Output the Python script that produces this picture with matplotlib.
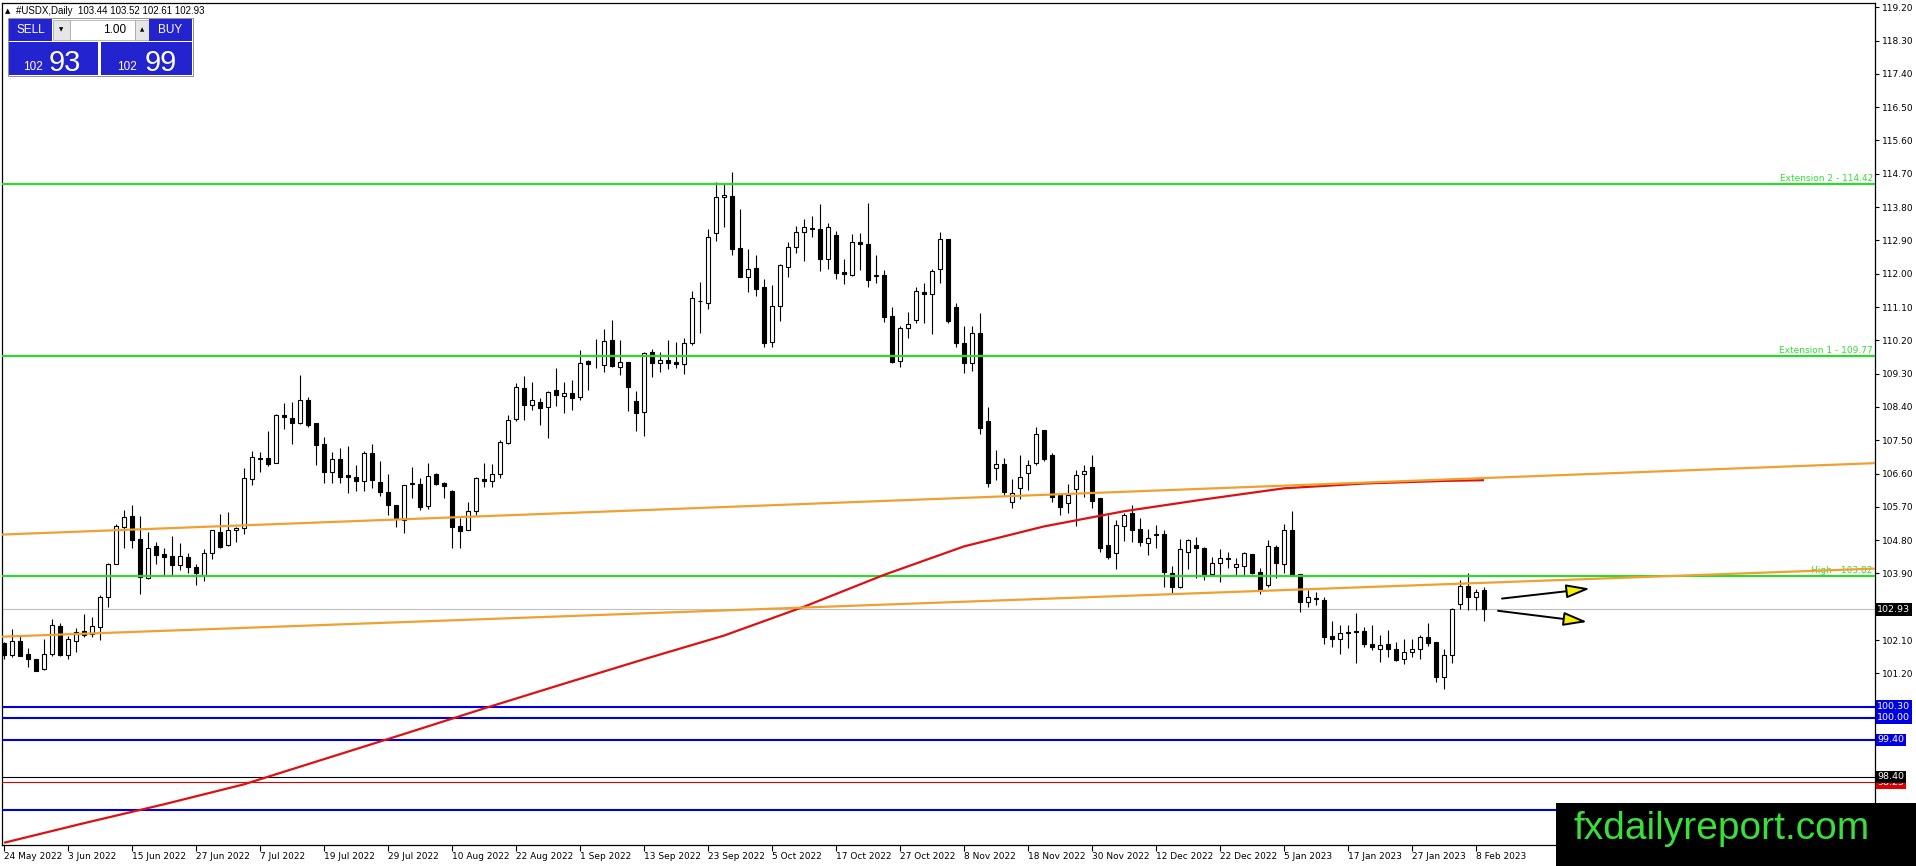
import matplotlib
matplotlib.use('Agg')
import matplotlib.pyplot as plt
import numpy as np
from matplotlib.patches import Rectangle, FancyArrowPatch
import matplotlib.transforms as mtrans

# ---------------- data ----------------
opens = [102.01,101.70,102.07,101.72,101.60,101.31,101.72,102.49,101.70,102.08,
102.35,102.26,102.46,103.25,104.15,105.15,105.45,104.82,103.77,104.64,
104.43,104.37,104.13,104.34,104.07,103.86,104.44,105.03,104.67,105.06,
105.12,106.44,107.00,107.01,106.89,108.18,108.09,107.96,108.60,107.96,
107.40,106.65,106.98,106.56,106.50,106.41,107.15,106.38,106.11,105.75,
105.34,106.34,106.32,105.72,106.59,106.33,106.14,105.18,105.07,105.60,
106.44,106.41,106.60,107.43,108.06,108.90,108.45,108.52,108.39,108.86,
108.69,108.77,108.68,109.64,109.78,109.53,110.21,109.49,109.61,108.57,
108.27,109.89,109.58,109.67,109.61,109.56,110.14,111.27,111.22,113.11,
114.06,114.10,112.69,111.90,112.15,111.63,110.16,111.14,112.17,112.71,
113.12,113.22,113.20,112.39,113.05,112.05,111.96,112.85,112.80,111.95,
111.96,110.86,109.65,110.52,110.75,111.50,111.44,112.12,112.94,111.11,
110.14,109.58,110.39,108.03,106.74,106.87,105.84,106.22,106.62,106.89,
107.78,107.10,106.02,105.79,106.17,106.60,106.77,105.93,104.67,104.46,
105.18,105.52,105.09,104.73,104.94,104.97,103.92,103.54,104.49,104.67,
104.60,103.88,104.17,104.33,104.07,104.10,104.42,103.95,103.59,104.62,
104.15,105.07,103.88,103.14,103.20,103.18,102.21,102.12,102.28,102.33,
102.34,102.00,101.87,101.98,101.87,101.58,101.77,101.87,102.17,102.05,
101.09,101.69,103.07,103.57,103.27,103.44]

highs = [102.05,102.39,102.21,101.88,101.60,102.12,102.66,102.55,102.21,102.42,
102.80,102.71,103.32,104.19,105.24,105.61,105.75,105.45,105.03,104.76,
104.58,104.91,104.73,104.46,104.15,104.55,105.07,105.50,105.57,105.16,
106.74,107.22,107.19,107.75,108.21,108.50,108.54,109.26,108.66,107.97,
107.58,107.19,107.28,107.33,106.83,107.22,107.40,106.95,106.60,105.75,
106.29,106.77,106.47,106.88,106.62,106.38,106.15,105.39,105.84,106.50,
106.88,106.86,107.51,108.18,109.04,109.24,109.08,108.63,108.84,109.44,
109.08,109.14,109.94,109.67,110.23,110.50,110.75,110.21,109.61,108.84,
109.89,109.96,109.89,110.21,110.16,110.25,111.54,111.78,113.20,114.49,
114.46,114.76,113.74,112.66,112.50,111.85,111.69,112.26,112.87,113.29,
113.47,113.56,113.88,113.38,113.16,112.41,113.07,113.11,113.90,112.50,
112.10,111.09,110.59,110.97,111.63,111.74,112.12,113.14,112.95,111.22,
110.59,110.59,110.95,108.39,107.24,107.01,106.44,107.10,106.96,107.87,
107.78,107.16,106.08,106.32,106.69,106.83,107.10,105.93,105.48,105.33,
105.52,105.75,105.39,105.09,105.21,105.06,104.10,104.82,104.82,104.88,
104.62,104.35,104.55,104.49,104.33,104.49,104.42,104.04,104.80,104.67,
105.23,105.60,103.88,103.45,103.41,103.25,102.61,102.50,102.50,102.84,
102.44,102.50,102.23,102.37,102.05,102.12,102.12,102.24,102.57,102.05,
101.85,102.96,103.72,103.90,103.47,103.52]

lows = [101.58,101.65,101.67,101.36,101.25,101.30,101.67,101.67,101.58,101.78,
102.17,102.17,102.10,102.98,104.15,104.58,104.60,103.34,103.74,104.15,
103.86,103.83,103.99,103.90,103.59,103.70,104.28,104.60,104.64,104.76,
104.97,106.29,106.65,106.79,106.88,107.79,107.40,107.94,107.85,106.83,
106.33,106.33,106.35,106.06,106.14,106.14,106.20,105.99,105.48,105.16,
104.98,105.93,105.61,105.63,106.29,105.93,104.58,104.60,105.06,105.48,
106.24,106.24,106.47,107.41,108.03,108.05,108.32,107.91,107.55,108.42,
108.23,108.32,108.60,108.86,109.44,109.33,109.49,109.26,108.30,107.76,
107.61,109.20,109.35,109.42,109.44,109.30,110.07,110.41,111.04,112.89,
113.27,112.50,111.92,111.51,111.40,110.01,110.03,110.73,111.90,112.57,
112.35,113.00,112.08,112.12,111.87,111.71,111.94,112.10,111.65,111.76,
110.70,109.58,109.49,110.25,110.68,110.68,110.37,111.76,110.68,110.01,
109.31,109.38,107.67,106.23,106.42,106.02,105.66,105.90,106.15,106.83,
106.94,105.84,105.48,105.54,105.18,105.96,105.66,104.49,104.28,104.01,
104.78,104.76,104.64,104.40,104.58,103.52,103.38,103.50,104.01,103.77,
103.72,103.83,103.68,104.04,103.83,103.83,103.88,103.34,103.54,103.77,
103.92,103.83,102.87,102.98,103.05,101.99,101.92,101.71,101.88,101.47,
101.92,101.83,101.51,101.65,101.54,101.45,101.63,101.60,101.94,100.97,
100.77,101.49,102.93,102.91,102.91,102.61]

closes = [101.70,102.06,101.68,101.58,101.27,101.72,102.50,101.70,102.12,102.33,
102.23,102.49,103.25,104.15,105.19,105.42,104.80,103.79,104.60,104.40,
104.35,104.13,104.37,104.07,103.90,104.44,105.07,104.62,105.07,105.12,
106.47,107.04,107.02,106.86,108.18,108.12,107.97,108.59,107.91,107.37,
106.65,106.98,106.51,106.50,106.41,107.16,106.42,106.11,105.75,105.36,
106.29,106.31,105.69,106.53,106.32,106.26,105.16,105.05,105.60,106.47,
106.41,106.59,107.46,108.05,108.93,108.45,108.59,108.36,108.79,108.72,
108.77,108.63,109.60,109.55,109.80,110.18,109.51,109.61,108.93,108.24,
109.87,109.60,109.67,109.60,109.55,110.14,111.33,111.25,112.98,114.06,
114.13,112.66,111.92,112.12,111.60,110.14,111.14,112.23,112.71,113.12,
113.25,113.23,112.41,113.25,112.03,111.98,112.87,112.79,111.83,111.96,
110.82,109.62,110.52,110.64,111.53,111.45,112.08,112.93,110.73,110.14,
109.58,110.39,107.82,106.35,106.86,106.11,106.08,106.51,106.83,107.66,
107.00,105.96,105.70,106.02,106.56,106.66,105.87,104.58,104.35,105.21,
105.48,105.07,104.76,104.87,104.95,103.95,103.54,104.55,104.80,104.60,
103.88,104.19,104.33,104.28,104.15,104.46,103.92,103.45,104.64,104.19,
105.07,103.83,103.14,103.25,103.21,102.19,102.12,102.30,102.33,102.32,
101.99,101.92,101.96,101.85,101.56,101.77,101.85,102.17,102.03,101.09,
101.69,102.94,103.57,103.27,103.41,102.93]

# moving average (red) read at sample bars
ma_bars = [0, 10, 20, 30, 40, 50, 60, 70, 80, 90, 100, 110, 120, 130, 140, 150, 160, 170, 180, 185]
ma_values = [96.62, 97.15, 97.66, 98.20, 98.88, 99.56, 100.25, 100.92, 101.58, 102.22,
             103.00, 103.86, 104.63, 105.17, 105.58, 105.90, 106.20, 106.33, 106.40, 106.42]

# date labels every 8 bars
date_labels = ["24 May 2022", "3 Jun 2022", "15 Jun 2022", "27 Jun 2022", "7 Jul 2022",
               "19 Jul 2022", "29 Jul 2022", "10 Aug 2022", "22 Aug 2022", "1 Sep 2022",
               "13 Sep 2022", "23 Sep 2022", "5 Oct 2022", "17 Oct 2022", "27 Oct 2022",
               "8 Nov 2022", "18 Nov 2022", "30 Nov 2022", "12 Dec 2022", "22 Dec 2022",
               "5 Jan 2023", "17 Jan 2023", "27 Jan 2023", "8 Feb 2023"]

# price axis ticks
price_ticks = [119.20, 118.30, 117.40, 116.50, 115.60, 114.70, 113.80, 112.90, 112.00,
               111.10, 110.20, 109.30, 108.40, 107.50, 106.60, 105.70, 104.80, 103.90,
               102.10, 101.20]

# horizontal levels
green_levels = [114.42, 109.77, 103.82]
green_names = ["Extension 2 - 114.42", "Extension 1 - 109.77", "High - 103.82"]
blue_levels = [100.30, 100.00, 99.40, 97.50]
blue_labels = ["100.30", "100.00", "99.40", ""]
black_level = 98.40
red_level = 98.25
last_price = 102.93

# trend lines (orange): (bar, price) endpoints
trend_upper = [(-0.25, 104.95), (233.875, 106.88)]
trend_lower = [(-0.25, 102.19), (233.875, 104.03)]

# arrows (start bar, start price, end bar, end price)
arrows = [(187.25, 103.22, 198.25, 103.49), (186.75, 102.89, 197.9, 102.59)]

# ---------------- figure ----------------
W, H = 1916, 866
fig = plt.figure(figsize=(W / 100, H / 100), dpi=100)
fig.patch.set_facecolor('white')

L, R, T, B = 2, 1875, 3, 845
ax = fig.add_axes([L / W, 1 - B / H, (R - L) / W, (B - T) / H])
ax.set_xlim(-0.25, 233.875)
ax.set_ylim(96.56, 119.316)
for s in ax.spines.values():
    s.set_color('black')
    s.set_linewidth(0.9)

o = np.array(opens); h = np.array(highs); l = np.array(lows); c = np.array(closes)
x = np.arange(len(o))
up = c >= o

ax.vlines(x, l, h, color='black', linewidth=0.8, zorder=2)
bot = np.minimum(o, c)
hgt = np.maximum(np.abs(c - o), 0.025)
ax.bar(x[up], hgt[up], bottom=bot[up], width=0.62, color='white', edgecolor='black',
       linewidth=0.8, zorder=3)
ax.bar(x[~up], hgt[~up], bottom=bot[~up], width=0.62, color='black', edgecolor='black',
       linewidth=0.8, zorder=3)

# current price line
ax.axhline(last_price, color='#c0c0c0', lw=0.8, zorder=1)

# horizontal objects
for lv, nm in zip(green_levels, green_names):
    ax.axhline(lv, color='#22e022', lw=1.5, zorder=4)
    ax.text(233.6, lv + 0.03, nm, color='#33dd33', fontsize=6.5, ha='right', va='bottom', zorder=4)
for lv in blue_levels:
    ax.axhline(lv, color='#0000dd', lw=1.5, zorder=4)
ax.axhline(black_level, color='black', lw=0.8, zorder=4)
ax.axhline(red_level, color='#dd0000', lw=0.8, zorder=4)

# red MA
ax.plot(ma_bars, ma_values, color='#dd1111', lw=1.6, zorder=4, solid_capstyle='butt')

# orange trendlines
for tl in (trend_upper, trend_lower):
    ax.plot([tl[0][0], tl[1][0]], [tl[0][1], tl[1][1]], color='#f0a030', lw=1.6, zorder=5)

# arrows
for (x0, y0, x1, y1) in arrows:
    ar = FancyArrowPatch((x0, y0), (x1, y1), arrowstyle='-|>,head_length=1.45,head_width=0.42',
                         mutation_scale=10, facecolor='#f4f000', edgecolor='black', lw=1.4,
                         shrinkA=0, shrinkB=0, zorder=6)
    ax.add_patch(ar)

# y axis on the right
ax.yaxis.tick_right()
ax.set_yticks(price_ticks)
ax.set_yticklabels([f"{v:.2f}" for v in price_ticks])
ax.tick_params(axis='y', direction='out', length=3, width=0.8, labelsize=6.5, pad=2, colors='black')

# x axis labels
ax.set_xticks(np.arange(len(date_labels)) * 8)
ax.set_xticklabels(date_labels)
for lab in ax.get_xticklabels():
    lab.set_ha('left')
ax.tick_params(axis='x', direction='out', length=4, width=0.8, labelsize=6.5, pad=1)

# price boxes on the axis
btr = mtrans.blended_transform_factory(ax.transAxes, ax.transData)
def pbox(val, txt, fc):
    ax.text(1.0012, val, txt, transform=btr, fontsize=6.8, color='white', va='center', ha='left',
            bbox=dict(boxstyle='square,pad=0.18', fc=fc, ec='none'), clip_on=False, zorder=10)
pbox(red_level, "98.25", '#e00000')
pbox(black_level, "98.40", 'black')
for lv, tx in zip(blue_levels, blue_labels):
    if tx:
        pbox(lv, tx, '#0000e0')
pbox(last_price, "102.93", 'black')

# ---------------- overlay (header panel, watermark) ----------------
ov = fig.add_axes([0, 0, 1, 1], zorder=20)
ov.set_xlim(0, W); ov.set_ylim(H, 0); ov.axis('off')

ov.text(5, 11, "\u25B2", fontsize=5, va='center', ha='left', color='black')
ov.text(16, 11, "#USDX,Daily  103.44 103.52 102.61 102.93", fontsize=7, va='center',
        ha='left', color='black', family='Liberation Sans')

blue = '#2323cf'
ov.add_patch(Rectangle((8, 18), 185, 58, fc='white', ec='#808080', lw=0.6))
ov.add_patch(Rectangle((9, 19), 43, 22, fc=blue, ec='none'))
ov.text(30.5, 30, "SELL", color='white', fontsize=8.5, ha='center', va='center', family='Liberation Sans')
ov.add_patch(Rectangle((53, 20), 17, 20, fc='#e6e6e6', ec='#a0a0a0', lw=0.5))
ov.text(61.5, 30, "\u25BC", fontsize=4, ha='center', va='center')
ov.add_patch(Rectangle((70, 20), 65, 20, fc='white', ec='#a0a0a0', lw=0.5))
ov.text(126, 30, "1.00", fontsize=8.5, ha='right', va='center', family='Liberation Sans')
ov.add_patch(Rectangle((135, 20), 14, 20, fc='#e6e6e6', ec='#a0a0a0', lw=0.5))
ov.text(142, 30, "\u25B2", fontsize=4, ha='center', va='center')
ov.add_patch(Rectangle((149, 19), 43, 22, fc=blue, ec='none'))
ov.text(170.5, 30, "BUY", color='white', fontsize=8.5, ha='center', va='center', family='Liberation Sans')
ov.add_patch(Rectangle((9, 42), 89, 33, fc=blue, ec='none'))
ov.add_patch(Rectangle((101, 42), 91, 33, fc=blue, ec='none'))
ov.text(33, 70, "102", color='white', fontsize=8.5, ha='center', va='baseline', family='Liberation Sans')
ov.text(65, 71, "93", color='white', fontsize=21, ha='center', va='baseline', family='Liberation Sans')
ov.text(127, 70, "102", color='white', fontsize=8.5, ha='center', va='baseline', family='Liberation Sans')
ov.text(161, 71, "99", color='white', fontsize=21, ha='center', va='baseline', family='Liberation Sans')

ov.add_patch(Rectangle((1556, 803), W - 1556, H - 803, fc='black', ec='none'))
ov.text(1722, 829, "fxdailyreport.com", color='#39e039', fontsize=28, ha='center', va='center',
        family='Liberation Sans')

fig.savefig('out.png', dpi=100, facecolor='white')
